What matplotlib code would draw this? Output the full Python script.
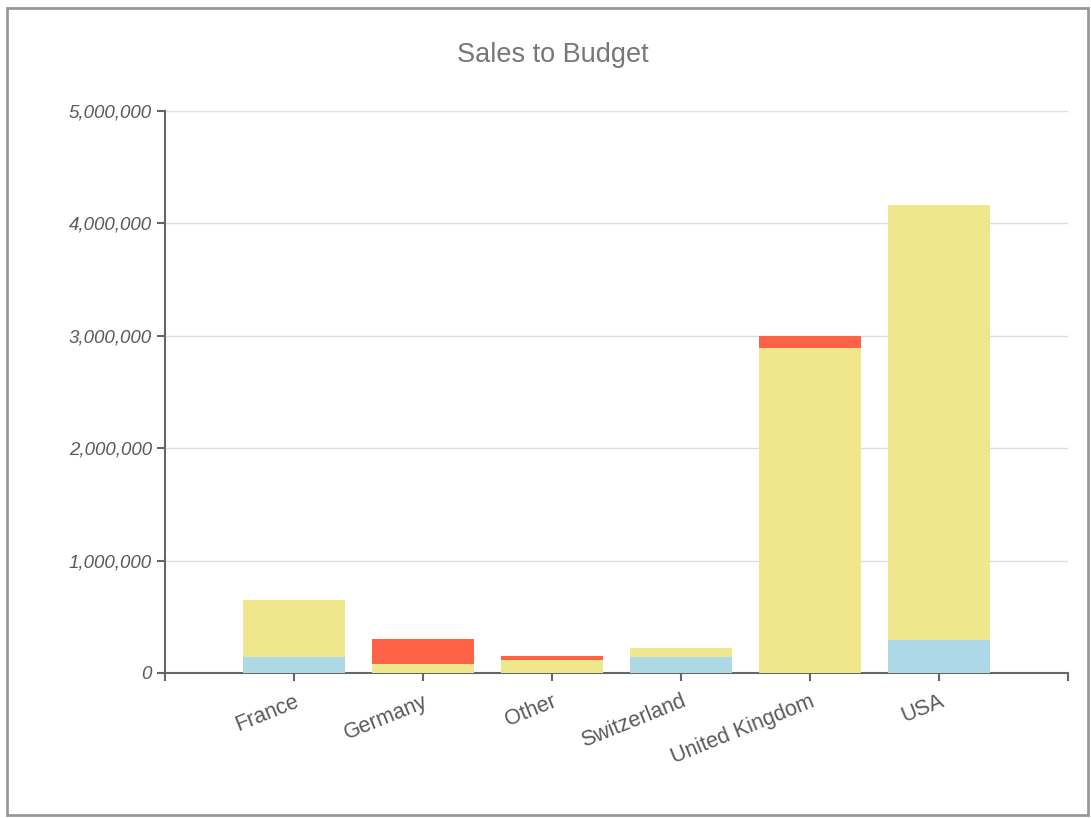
import numpy as np
import matplotlib
matplotlib.use("Agg")
from matplotlib import pyplot as plt
from matplotlib.patches import Rectangle
from matplotlib.ticker import FuncFormatter

plt.rcParams['font.family'] = ['Liberation Sans', 'DejaVu Sans']

countries = ["France", "Germany", "Other", "Switzerland", "United Kingdom", "USA"]
# stacked segments, bottom to top
sales_part = [145000, 0, 0, 145000, 0, 295000]
budget_part = [500000, 77000, 116000, 77000, 2890000, 3870000]
over_part = [0, 223000, 35000, 0, 110000, 0]
y_ticks = [0, 1000000, 2000000, 3000000, 4000000, 5000000]

fig = plt.figure(figsize=(10.91, 8.18), dpi=100)
ax = fig.add_axes([0.1512, 0.1773, 0.8277, 0.6870])

x = np.arange(len(countries))
w = 0.79
sales = np.array(sales_part)
budget = np.array(budget_part)
over = np.array(over_part)
ax.bar(x, sales, w, color="#ADD8E6", zorder=3)
ax.bar(x, budget, w, bottom=sales, color="#F0E68C", zorder=3)
ax.bar(x, over, w, bottom=sales + budget, color="#FF6347", zorder=3)

ax.set_xlim(-1, 6)
ax.set_ylim(0, 5000000)
ax.set_yticks(y_ticks)
ax.yaxis.set_major_formatter(FuncFormatter(lambda v, p: "{:,}".format(int(v))))
ax.set_xticks(x)
ax.set_xticks([-1, 6], minor=True)
ax.set_xticklabels(countries, rotation=22, ha="right", va="top",
                   rotation_mode="anchor", fontsize=15.5, color="#5a5a5a")
for lab in ax.get_yticklabels():
    lab.set_fontstyle("italic")
    lab.set_fontsize(13.5)
    lab.set_color("#5a5a5a")

ax.grid(axis="y", color="#dddddd", lw=1, zorder=0)
for s in ["top", "right"]:
    ax.spines[s].set_visible(False)
for s in ["left", "bottom"]:
    ax.spines[s].set_color("#666666")
    ax.spines[s].set_linewidth(1.5)
ax.tick_params(axis="both", which="both", color="#666666", width=1.5, length=6)
ax.tick_params(axis="x", pad=7)

fig.text(0.507, 0.933, "Sales to Budget", ha="center", va="center",
         fontsize=19.5, color="#777777")

# outer frame
fig.patches.append(Rectangle((7 / 1091, 3 / 818), 1081 / 1091, 807 / 818,
                             transform=fig.transFigure, fill=False,
                             edgecolor="#999999", lw=2))

fig.savefig("out.png", dpi=100)
